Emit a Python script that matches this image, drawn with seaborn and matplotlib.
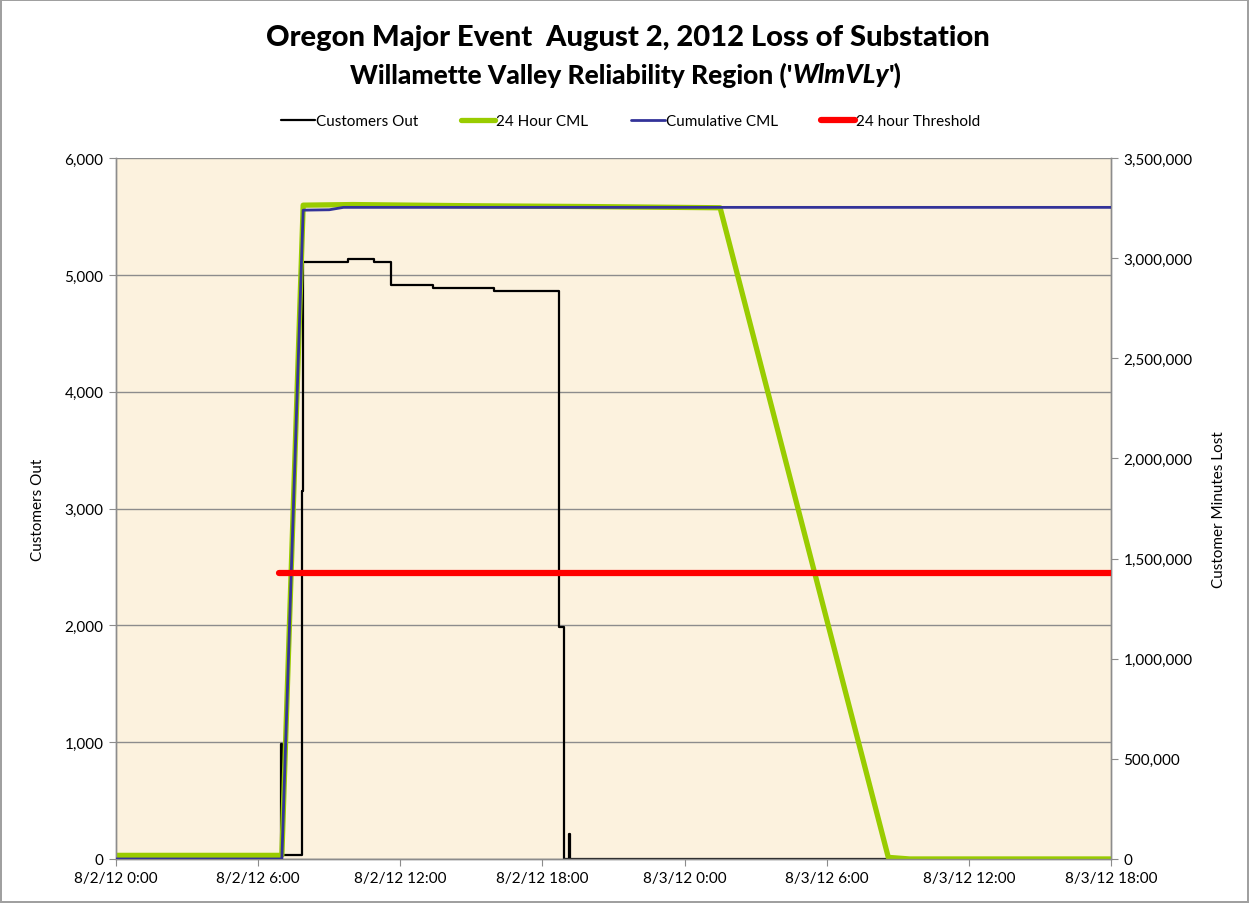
import numpy as np
import pandas as pd
import seaborn as sns
import matplotlib.pyplot as plt
from matplotlib.ticker import FuncFormatter, FixedLocator
from matplotlib.lines import Line2D

sns.set_style("white")
plt.rcParams['font.family'] = ['Lato', 'DejaVu Sans']
plt.rcParams['text.color'] = 'black'
plt.rcParams['axes.labelcolor'] = 'black'
plt.rcParams['xtick.color'] = 'black'
plt.rcParams['ytick.color'] = 'black'

# Customers Out (step data), hours from 8/2/12 0:00
out_hours = [0, 6.95, 7.0, 7.85, 7.9, 9.78, 10.91, 11.59, 13.40, 15.97, 18.71, 18.92, 19.13, 19.17, 32.6]
out_vals = [0, 980, 35, 3150, 5110, 5135, 5110, 4915, 4885, 4865, 1985, 0, 210, 0, 0]

# 24 Hour CML (right axis)
cml24_hours = [0, 7.0, 7.9, 10.0, 15.0, 20.0, 25.5, 32.6, 33.5, 42.0]
cml24_vals = [18000, 18000, 3265000, 3268000, 3262000, 3258000, 3252000, 8000, 0, 0]

# Cumulative CML (right axis)
cum_hours = [0, 7.0, 7.9, 9.0, 9.6, 42.0]
cum_vals = [0, 0, 3240000, 3242000, 3254000, 3254000]

# 24 hour Threshold (right axis)
thr_hours = [6.9, 42.0]
thr_vals = [1428000, 1428000]

tick_hours = [0, 6, 12, 18, 24, 30, 36, 42]
tick_labels = ['8/2/12 0:00', '8/2/12 6:00', '8/2/12 12:00', '8/2/12 18:00',
               '8/3/12 0:00', '8/3/12 6:00', '8/3/12 12:00', '8/3/12 18:00']

fig = plt.figure(figsize=(12.49, 9.04), dpi=100)
fig.patch.set_edgecolor('#A0A0A0')
fig.patch.set_linewidth(1.5)
ax = fig.add_axes([0.0929, 0.0487, 0.7966, 0.7753])
ax.set_facecolor('#FCF2DE')
ax2 = ax.twinx()

# black step line on left axis
sns.lineplot(x=out_hours, y=out_vals, ax=ax, color='black', linewidth=1.6,
             drawstyle='steps-post', estimator=None, sort=False)

# right axis series
sns.lineplot(x=cml24_hours, y=cml24_vals, ax=ax2, color='#99CC00', linewidth=3.8,
             estimator=None, sort=False, zorder=2)
sns.lineplot(x=cum_hours, y=cum_vals, ax=ax2, color='#333399', linewidth=2.0,
             estimator=None, sort=False, zorder=4)
sns.lineplot(x=thr_hours, y=thr_vals, ax=ax2, color='#FF0000', linewidth=4.5,
             estimator=None, sort=False, zorder=5)

ax.set_xlim(0, 42)
ax.set_ylim(0, 6000)
ax2.set_ylim(0, 3500000)
ax.set_yticks(np.arange(0, 6001, 1000))
ax2.set_yticks(np.arange(0, 3500001, 500000))
ax.xaxis.set_major_locator(FixedLocator(tick_hours))
ax.set_xticklabels(tick_labels)
fmt = FuncFormatter(lambda v, p: f'{int(v):,}')
ax.yaxis.set_major_formatter(fmt)
ax2.yaxis.set_major_formatter(fmt)

ax.grid(axis='y', color='#8C8C8C', linewidth=1.0)
ax.set_axisbelow(True)
for a in (ax, ax2):
    a.spines['top'].set_visible(False)
    for s in ('left', 'right', 'bottom'):
        a.spines[s].set_color('#8C8C8C')
        a.spines[s].set_linewidth(1.0)
    a.tick_params(direction='out', length=5, color='#8C8C8C', labelcolor='black',
                  labelsize=11, pad=4)
ax.tick_params(axis='y', left=True)
ax2.tick_params(axis='y', right=True)
ax.tick_params(axis='x', bottom=True)

ax.set_xlabel('')
ax.set_ylabel('Customers Out', fontsize=11, labelpad=14)
ax2.set_ylabel('Customer Minutes Lost', fontsize=11, labelpad=14)

fig.text(0.503, 0.958, 'Oregon Major Event  August 2, 2012 Loss of Substation',
         ha='center', va='center', fontsize=21, fontweight='black')

# subtitle with bold-italic region code, laid out piece by piece
parts = [("Willamette Valley Reliability Region ('", 'normal'),
         ('WlmVLy', 'italic'),
         ("')", 'normal')]
fig.canvas.draw()
r = fig.canvas.get_renderer()
texts = [fig.text(0, 0.917, s, ha='left', va='center', fontsize=19,
                  fontweight='black', fontstyle=st) for s, st in parts]
widths = [t.get_window_extent(r).width for t in texts]
x = (1249 * 0.501 - sum(widths) / 2)
for t, w in zip(texts, widths):
    t.set_x(x / 1249)
    x += w

handles = [Line2D([], [], color='black', linewidth=1.6),
           Line2D([], [], color='#99CC00', linewidth=3.8),
           Line2D([], [], color='#333399', linewidth=2.0),
           Line2D([], [], color='#FF0000', linewidth=4.5)]
labels = ['Customers Out', '24 Hour CML', 'Cumulative CML', '24 hour Threshold']
fig.legend(handles, labels, loc='center', bbox_to_anchor=(0.505, 0.865), ncol=4,
           frameon=False, fontsize=11, handlelength=2.2, handletextpad=0.1,
           columnspacing=2.8)

fig.savefig('out.png', dpi=100)
